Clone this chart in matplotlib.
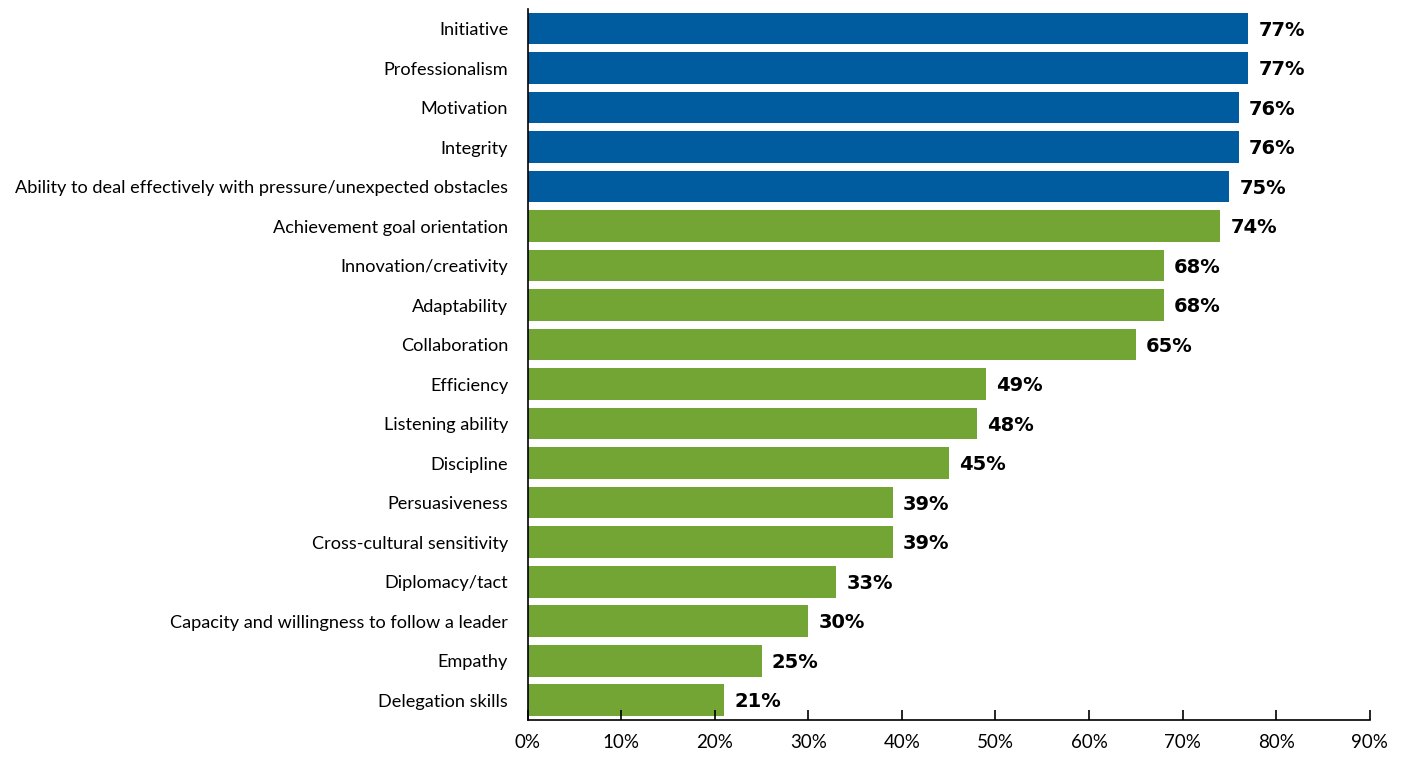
import matplotlib
matplotlib.use("Agg")
import matplotlib.pyplot as plt
from matplotlib.ticker import PercentFormatter

plt.rcParams['font.family'] = ['Lato', 'DejaVu Sans']

categories = [
    "Initiative", "Professionalism", "Motivation", "Integrity",
    "Ability to deal effectively with pressure/unexpected obstacles",
    "Achievement goal orientation", "Innovation/creativity", "Adaptability",
    "Collaboration", "Efficiency", "Listening ability", "Discipline",
    "Persuasiveness", "Cross-cultural sensitivity", "Diplomacy/tact",
    "Capacity and willingness to follow a leader", "Empathy", "Delegation skills",
]
values = [77, 77, 76, 76, 75, 74, 68, 68, 65, 49, 48, 45, 39, 39, 33, 30, 25, 21]
top_n = 5  # first five highlighted in blue

BLUE = "#005c9e"
GREEN = "#73a535"

fig = plt.figure(figsize=(14.05, 7.59), dpi=100)
ax = fig.add_axes([0.3755, 0.0514, 0.5994, 0.937])

ypos = list(range(len(categories)))
colors = [BLUE if i < top_n else GREEN for i in ypos]
ax.barh(ypos, values, height=0.8, color=colors)

for y, v in zip(ypos, values):
    ax.text(v + 1.1, y + 0.04, f"{v}%", va="center", ha="left",
            fontsize=14, fontweight="bold", family="DejaVu Sans", color="black")

ax.set_yticks(ypos)
ax.set_yticklabels(categories, fontsize=13.1)
ax.set_ylim(len(categories) - 0.5, -0.5)
ax.set_xlim(0, 90)
ax.set_xticks(range(0, 91, 10))
ax.xaxis.set_major_formatter(PercentFormatter(decimals=0))

for s in ["top", "right"]:
    ax.spines[s].set_visible(False)
ax.spines["left"].set_linewidth(1.2)
ax.spines["bottom"].set_linewidth(1.2)
ax.tick_params(axis="y", length=0, pad=14)
ax.tick_params(axis="x", direction="in", length=7, width=1.2, labelsize=13.5, pad=10)

plt.savefig("out.png", dpi=100)
plt.close()
